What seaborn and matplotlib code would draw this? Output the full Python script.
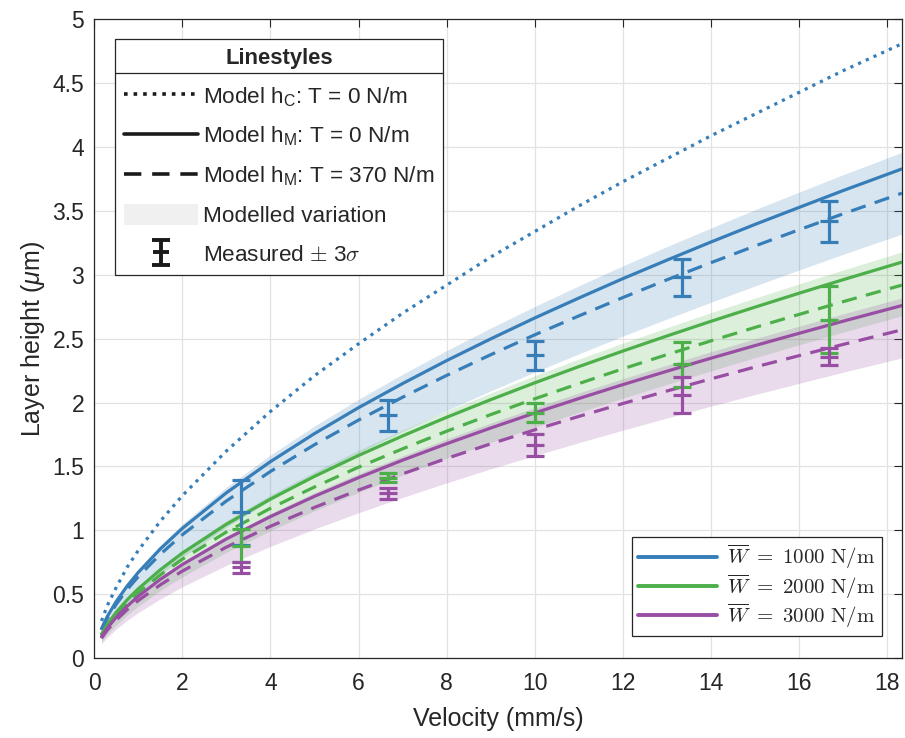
import numpy as np
import pandas as pd
import matplotlib
matplotlib.use("Agg")
import matplotlib.pyplot as plt
import seaborn as sns
from matplotlib.lines import Line2D
from matplotlib.patches import Patch
from matplotlib.container import ErrorbarContainer
from matplotlib.legend_handler import HandlerErrorbar
from matplotlib.ticker import FuncFormatter, MultipleLocator

# velocity grid of the model curves (mm/s)
velocity = [0.17, 0.3, 0.5, 0.75, 1, 1.5, 2, 3, 4, 5, 6, 7, 8, 9, 10,
            11, 12, 13, 14, 15, 16, 17, 18.33]

# capillary model, T = 0 (only one curve)
hc_t0 = [0.29, 0.41, 0.55, 0.71, 0.84, 1.07, 1.27, 1.62, 1.93, 2.21, 2.46, 2.70,
         2.92, 3.14, 3.34, 3.54, 3.73, 3.91, 4.09, 4.26, 4.43, 4.60, 4.81]

# model h_M, T = 0 N/m
hm_t0_1000 = [0.231, 0.325, 0.441, 0.563, 0.669, 0.853, 1.014, 1.293, 1.537, 1.757, 1.960, 2.149,
              2.329, 2.499, 2.663, 2.819, 2.971, 3.116, 3.258, 3.396, 3.529, 3.661, 3.83]
hm_t0_2000 = [0.187, 0.263, 0.357, 0.455, 0.541, 0.690, 0.821, 1.047, 1.244, 1.422, 1.586, 1.739,
              1.885, 2.023, 2.155, 2.282, 2.404, 2.522, 2.637, 2.748, 2.857, 2.963, 3.10]
hm_t0_3000 = [0.166, 0.234, 0.318, 0.405, 0.482, 0.615, 0.731, 0.932, 1.107, 1.266, 1.412, 1.549,
              1.678, 1.801, 1.919, 2.032, 2.141, 2.246, 2.348, 2.447, 2.543, 2.638, 2.76]

# model h_M, T = 370 N/m
hm_t370_1000 = [0.219, 0.309, 0.419, 0.535, 0.636, 0.811, 0.964, 1.229, 1.460, 1.670, 1.863, 2.042,
                2.213, 2.375, 2.531, 2.679, 2.823, 2.962, 3.096, 3.227, 3.354, 3.479, 3.64]
hm_t370_2000 = [0.176, 0.248, 0.336, 0.429, 0.510, 0.650, 0.773, 0.986, 1.172, 1.339, 1.494, 1.638,
                1.776, 1.906, 2.030, 2.149, 2.265, 2.376, 2.484, 2.589, 2.691, 2.791, 2.92]
hm_t370_3000 = [0.155, 0.218, 0.296, 0.378, 0.449, 0.572, 0.680, 0.868, 1.031, 1.179, 1.315, 1.442,
                1.563, 1.677, 1.787, 1.892, 1.993, 2.091, 2.186, 2.279, 2.368, 2.456, 2.57]

# modelled variation bands
band_hi_1000 = [0.239, 0.336, 0.456, 0.582, 0.691, 0.882, 1.048, 1.337, 1.589, 1.816, 2.026, 2.222,
                2.408, 2.584, 2.753, 2.915, 3.071, 3.222, 3.368, 3.511, 3.649, 3.785, 3.96]
band_lo_1000 = [0.158, 0.229, 0.319, 0.416, 0.501, 0.652, 0.787, 1.024, 1.234, 1.427, 1.606, 1.775,
                1.937, 2.092, 2.239, 2.382, 2.521, 2.655, 2.786, 2.914, 3.039, 3.162, 3.32]
band_hi_2000 = [0.192, 0.270, 0.366, 0.467, 0.555, 0.708, 0.842, 1.074, 1.276, 1.459, 1.627, 1.784,
                1.934, 2.075, 2.211, 2.341, 2.466, 2.587, 2.705, 2.819, 2.930, 3.039, 3.18]
band_lo_2000 = [0.128, 0.185, 0.258, 0.336, 0.404, 0.527, 0.635, 0.827, 0.996, 1.152, 1.297, 1.433,
                1.564, 1.688, 1.807, 1.923, 2.035, 2.143, 2.249, 2.352, 2.453, 2.552, 2.68]
band_hi_3000 = [0.170, 0.239, 0.325, 0.414, 0.492, 0.628, 0.746, 0.952, 1.131, 1.294, 1.443, 1.582,
                1.715, 1.840, 1.960, 2.076, 2.187, 2.294, 2.399, 2.500, 2.599, 2.695, 2.82]
band_lo_3000 = [0.112, 0.162, 0.226, 0.294, 0.355, 0.462, 0.557, 0.725, 0.874, 1.010, 1.137, 1.257,
                1.371, 1.481, 1.585, 1.686, 1.784, 1.879, 1.972, 2.063, 2.151, 2.238, 2.35]

# measurements (mean +- 3 sigma)
v_meas = [3.33, 6.67, 10.0, 13.33, 16.67]
meas_1000 = [1.14, 1.90, 2.37, 2.98, 3.42]
err_1000 = [0.255, 0.12, 0.115, 0.145, 0.16]
meas_2000 = [0.88, 1.41, 1.92, 2.30, 2.65]
err_2000 = [0.13, 0.035, 0.075, 0.175, 0.265]
meas_3000 = [0.71, 1.29, 1.67, 2.06, 2.36]
err_3000 = [0.045, 0.045, 0.085, 0.14, 0.065]

loads = ["1000", "2000", "3000"]
colors = {"1000": "#377eb8", "2000": "#4daf4a", "3000": "#984ea3"}

sns.set_theme(style="white")
plt.rcParams["font.family"] = ["Liberation Sans", "DejaVu Sans"]
plt.rcParams["mathtext.fontset"] = "custom"
plt.rcParams["mathtext.rm"] = "Liberation Sans"
plt.rcParams["mathtext.it"] = "Liberation Sans:italic"
plt.rcParams["mathtext.bf"] = "Liberation Sans:bold"

fig = plt.figure(figsize=(9.05, 7.38), dpi=100)
ax = fig.add_axes([0.1039, 0.1084, 0.8928, 0.8652])

bands = {"1000": (band_lo_1000, band_hi_1000),
         "2000": (band_lo_2000, band_hi_2000),
         "3000": (band_lo_3000, band_hi_3000)}
solid = {"1000": hm_t0_1000, "2000": hm_t0_2000, "3000": hm_t0_3000}
dashed = {"1000": hm_t370_1000, "2000": hm_t370_2000, "3000": hm_t370_3000}
meas = {"1000": (meas_1000, err_1000), "2000": (meas_2000, err_2000), "3000": (meas_3000, err_3000)}

lw = 2.3
for w in loads:
    lo, hi = bands[w]
    ax.fill_between(velocity, lo, hi, color=colors[w], alpha=0.2, linewidth=0, zorder=1)

df = pd.DataFrame({"v": velocity, "hc": hc_t0})
sns.lineplot(data=df, x="v", y="hc", ax=ax, color=colors["1000"], linewidth=lw,
             linestyle=":", legend=False, zorder=3)
for w in loads:
    d = pd.DataFrame({"v": velocity, "solid": solid[w], "dashed": dashed[w]})
    sns.lineplot(data=d, x="v", y="solid", ax=ax, color=colors[w], linewidth=lw,
                 legend=False, zorder=3)
    sns.lineplot(data=d, x="v", y="dashed", ax=ax, color=colors[w], linewidth=lw,
                 linestyle=(0, (4.8, 3.0)), legend=False, zorder=3)

for w in loads:
    m, e = meas[w]
    ax.errorbar(v_meas, m, yerr=e, fmt="_", color=colors[w], ecolor=colors[w],
                elinewidth=lw, capsize=6.5, capthick=lw, markersize=13,
                markeredgewidth=lw, zorder=4)

ax.set_xlim(0, 18.33)
ax.set_ylim(0, 5)
ax.xaxis.set_major_locator(MultipleLocator(2))
ax.yaxis.set_major_locator(MultipleLocator(0.5))
ax.yaxis.set_major_formatter(FuncFormatter(lambda v, p: f"{v:g}"))
ax.grid(True, color="#e2e2e2", linewidth=0.9)
ax.set_axisbelow(True)
ax.tick_params(direction="in", length=5.5, width=0.8, top=True, right=True,
               labelsize=16.5, colors="#262626")
ax.tick_params(axis="x", pad=10)
ax.tick_params(axis="y", pad=7)
for s in ax.spines.values():
    s.set_color("#262626")
    s.set_linewidth(0.9)
ax.set_xlabel("Velocity (mm/s)", fontsize=18, color="#262626", labelpad=9)
ax.set_ylabel(r"Layer height ($\mu$m)", fontsize=18, color="#262626", labelpad=4)

# legend of line styles
eb_handle = ax.errorbar([np.nan], [np.nan], yerr=[0.1], fmt="_", color="k",
                        elinewidth=2.8, capsize=6.5, capthick=2.8, markersize=12,
                        markeredgewidth=2.8)
style_handles = [
    Line2D([], [], color="k", linewidth=2.6, linestyle=":"),
    Line2D([], [], color="k", linewidth=2.6),
    Line2D([], [], color="k", linewidth=2.6, linestyle=(0, (4.8, 3.0))),
    Patch(facecolor="#f0f0f0", edgecolor="none"),
    eb_handle,
]
style_labels = [
    r"Model h$_\mathrm{C}$: T = 0 N/m",
    r"Model h$_\mathrm{M}$: T = 0 N/m",
    r"Model h$_\mathrm{M}$: T = 370 N/m",
    "Modelled variation",
    r"Measured $\pm$ 3$\sigma$",
]
leg1 = ax.legend(style_handles, style_labels, loc="upper left",
                 bbox_to_anchor=(0.026, 0.969), borderaxespad=0, fontsize=16.2,
                 title="Linestyles", title_fontproperties={"weight": "bold", "size": 15.8},
                 handlelength=3.3, handletextpad=0.22, labelspacing=0.72,
                 handleheight=1.0, borderpad=0.38, fancybox=False, framealpha=1,
                 edgecolor="#262626",
                 handler_map={ErrorbarContainer: HandlerErrorbar(yerr_size=0.55)})
leg1.get_frame().set_linewidth(0.9)
leg1.get_texts()[4].set_math_fontfamily("cm")
ax.add_artist(leg1)

# legend of loads
load_handles = [Line2D([], [], color=colors[w], linewidth=2.8) for w in loads]
load_labels = [r"$\overline{W}\ =\ %s\ \mathrm{N/m}$" % w for w in loads]
leg2 = ax.legend(load_handles, load_labels, loc="lower right",
                 bbox_to_anchor=(0.975, 0.0345), borderaxespad=0, fontsize=15,
                 handlelength=3.8, handletextpad=0.5, labelspacing=0.05,
                 borderpad=0.3, fancybox=False, framealpha=1, edgecolor="#262626")
leg2.get_frame().set_linewidth(0.9)
for t in leg2.get_texts():
    t.set_math_fontfamily("cm")

# separator line below the legend title
fig.canvas.draw()
inv = fig.transFigure.inverted()
lb = leg1.get_window_extent()
tb = leg1._legend_title_box.get_window_extent()
y_sep = tb.y0 - 4
(x0, ys), (x1, _) = inv.transform([(lb.x0, y_sep), (lb.x1, y_sep)])
fig.add_artist(Line2D([x0, x1], [ys, ys], color="#262626", linewidth=0.9, zorder=10))

fig.savefig("out.png", dpi=100)
